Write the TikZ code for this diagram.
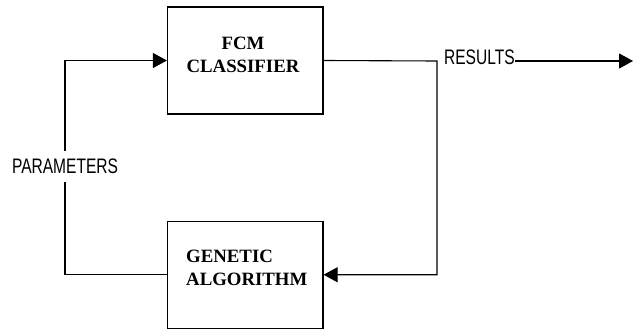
\documentclass[tikz,border=0pt]{standalone}
\usepackage{fontspec}
\setmainfont{Liberation Serif}
\newfontfamily\lsans{Liberation Sans}
\usetikzlibrary{arrows.meta}
\begin{document}
\begin{tikzpicture}[x=1pt,y=-1pt,
  box/.style={draw, line width=1.2pt, minimum width=155.5pt, minimum height=107pt, inner sep=0pt},
  boxtext/.style={font=\fontsize{18.8}{23}\selectfont\bfseries, inner sep=0pt},
  lbl/.style={font=\lsans\fontsize{21}{24}\selectfont, xscale=0.74, inner sep=0pt},
  conn/.style={line width=1.1pt},
  tip/.style={-{Triangle[length=14pt,width=15pt]}}]
\useasboundingbox (0,0) rectangle (634,329);
\node[box] (fcm) at (245.25,60.5) {};
\node[box] (ga) at (245.25,274.75) {};
\node[boxtext, align=center, anchor=north] (fcmtext) at (243,37) {FCM\\CLASSIFIER};
\node[boxtext, align=left, anchor=north west] (gatext) at (186,250) {GENETIC\\ALGORITHM};
\node[lbl, inner ysep=8pt] (param) at (65,166.5) {PARAMETERS};
\coordinate (j) at (437,61);
\node[lbl, anchor=west] (res) at (444,57.5) {RESULTS};
\coordinate (out) at (633,61);
\draw[conn, tip] (param.north) |- (fcm.west);
\draw[conn] (param.south) |- (ga.west);
\draw[conn, tip] (fcm.east) -- (j) |- (ga.east);
\draw[conn, tip] (res.east |- j) -- (out);
\end{tikzpicture}
\end{document}
